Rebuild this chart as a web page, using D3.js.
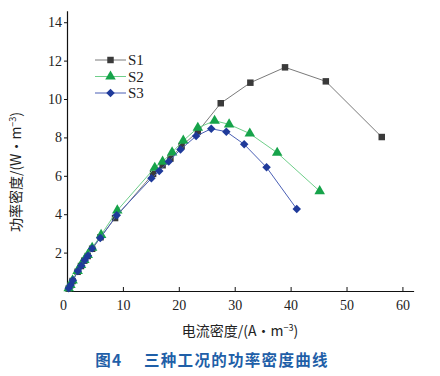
<!DOCTYPE html>
<html>
<head>
<meta charset="utf-8">
<script src="https://cdn.jsdelivr.net/npm/d3@7"></script>
<style>
  body { margin: 0; background: #fff; }
  .tick text { font-family: "Liberation Serif", serif; font-size: 14px; fill: #222; }
</style>
</head>
<body>
<script>
// current density (A/m3) vs power density (W/m3)
const s1X = [0.3, 0.6, 1.0, 1.9, 2.5, 3.1, 3.7, 4.5, 6.0, 8.6, 15.4, 17.1, 18.5, 20.5, 23.4, 27.5, 32.8, 39.0, 46.3, 56.3];
const s1Y = [0.12, 0.3, 0.52, 1.0, 1.3, 1.58, 1.82, 2.2, 2.8, 3.8, 6.1, 6.55, 6.9, 7.55, 8.3, 9.78, 10.85, 11.65, 10.92, 8.02];
const s2X = [0.3, 0.6, 1.0, 1.9, 2.5, 3.1, 3.7, 4.5, 6.1, 9.0, 15.7, 17.1, 18.8, 20.8, 23.4, 26.4, 29.0, 32.7, 37.6, 45.2];
const s2Y = [0.15, 0.32, 0.55, 1.05, 1.35, 1.62, 1.88, 2.25, 2.92, 4.2, 6.42, 6.74, 7.22, 7.83, 8.5, 8.87, 8.68, 8.2, 7.2, 5.2];
const s3X = [0.3, 0.65, 1.05, 1.95, 2.55, 3.15, 3.75, 4.5, 5.95, 8.9, 15.1, 16.5, 18.2, 20.3, 23.1, 25.8, 28.5, 31.7, 35.7, 41.1];
const s3Y = [0.14, 0.31, 0.56, 1.04, 1.32, 1.6, 1.84, 2.22, 2.76, 3.95, 5.87, 6.25, 6.74, 7.37, 8.07, 8.45, 8.3, 7.64, 6.44, 4.27];
const seriesNames = ["S1", "S2", "S3"];
const xTicks = [0, 10, 20, 30, 40, 50, 60];
const yTicks = [2, 4, 6, 8, 10, 12, 14];

const WIDTH = 440, HEIGHT = 376;
// diamonds are drawn as squares turned 45 degrees
const series = [
  {name: seriesNames[0], xs: s1X, ys: s1Y, line: "#7a7a7a", fill: "#3a3a3a", shape: d3.symbolSquare, size: 42, rot: 0},
  {name: seriesNames[1], xs: s2X, ys: s2Y, line: "#6fcf8a", fill: "#16a34a", shape: d3.symbolTriangle, size: 48, rot: 0},
  {name: seriesNames[2], xs: s3X, ys: s3Y, line: "#4a5fb5", fill: "#1f3a9a", shape: d3.symbolSquare, size: 36, rot: 45}
];

var xScale = d3.scaleLinear().domain([0, 62]).range([67, 413.6]);
var yScale = d3.scaleLinear().domain([0, 14.6]).range([291, 10.7]);

var svg = d3.select("body").append("svg")
    .attr("width", WIDTH)
    .attr("height", HEIGHT);

// axes
var gx = svg.append("g")
    .attr("transform", "translate(0,291)")
    .call(d3.axisBottom(xScale).tickValues(xTicks).tickSize(-4).tickPadding(8).tickSizeOuter(0));
gx.select(".domain").attr("stroke", "#111").attr("stroke-width", 1.2);
gx.selectAll(".tick line").attr("stroke", "#111");
gx.selectAll(".tick text").attr("dy", "0.75em");
gx.selectAll(".tick").filter(d => d === 0).select("text").attr("dx", -4);

var gy = svg.append("g")
    .attr("transform", "translate(67,0)")
    .call(d3.axisLeft(yScale).tickValues(yTicks).tickSize(3).tickPadding(2).tickSizeOuter(0));
gy.select(".domain").attr("stroke", "#111").attr("stroke-width", 1.2);
gy.selectAll(".tick line").attr("stroke", "#111");

// series
var line = d3.line()
    .x(d => xScale(d[0]))
    .y(d => yScale(d[1]));

series.forEach(function(s) {
  var pts = s.xs.map((x, i) => [x, s.ys[i]]);
  svg.append("path")
      .attr("d", line(pts))
      .attr("fill", "none")
      .attr("stroke", s.line)
      .attr("stroke-width", 1);
  svg.selectAll(null).data(pts).enter()
      .append("path")
      .attr("d", d3.symbol().type(s.shape).size(s.size))
      .attr("transform", d => "translate(" + xScale(d[0]) + "," + yScale(d[1]) + ") rotate(" + s.rot + ")")
      .attr("fill", s.fill);
});

// legend
var legend = svg.append("g");
series.forEach(function(s, i) {
  var y = 60 + i * 16.5;
  legend.append("line")
      .attr("x1", 95).attr("x2", 126)
      .attr("y1", y).attr("y2", y)
      .attr("stroke", s.line).attr("stroke-width", 1);
  legend.append("path")
      .attr("d", d3.symbol().type(s.shape).size(s.size))
      .attr("transform", "translate(110.5," + y + ") rotate(" + s.rot + ")")
      .attr("fill", s.fill);
  legend.append("text")
      .attr("x", 128).attr("y", y + 5)
      .attr("font-family", "Liberation Serif, serif")
      .attr("font-size", 15)
      .attr("fill", "#222")
      .text(s.name);
});

// axis titles
var yTitle = svg.append("text")
    .attr("transform", "translate(21,172) rotate(-90)")
    .attr("text-anchor", "middle")
    .attr("font-family", "Noto Sans CJK SC, sans-serif")
    .attr("font-size", 14)
    .attr("fill", "#222");
yTitle.append("tspan").text("功率密度/(W·m");
yTitle.append("tspan").attr("dy", -5).attr("font-size", 9).text("−3");
yTitle.append("tspan").attr("dy", 5).text(")");

var xTitle = svg.append("text")
    .attr("x", 240).attr("y", 336)
    .attr("text-anchor", "middle")
    .attr("font-family", "Noto Sans CJK SC, sans-serif")
    .attr("font-size", 14)
    .attr("fill", "#222");
xTitle.append("tspan").text("电流密度/(A·m");
xTitle.append("tspan").attr("dy", -5).attr("font-size", 9).text("−3");
xTitle.append("tspan").attr("dy", 5).text(")");

// caption
svg.append("text")
    .attr("x", 212).attr("y", 366)
    .attr("text-anchor", "middle")
    .attr("font-family", "Noto Sans CJK SC, sans-serif")
    .attr("font-size", 15.5)
    .attr("font-weight", "bold")
    .attr("letter-spacing", 1.3)
    .attr("fill", "#1f5fa8")
    .attr("xml:space", "preserve")
    .text("图4　 三种工况的功率密度曲线");
</script>
</body>
</html>
